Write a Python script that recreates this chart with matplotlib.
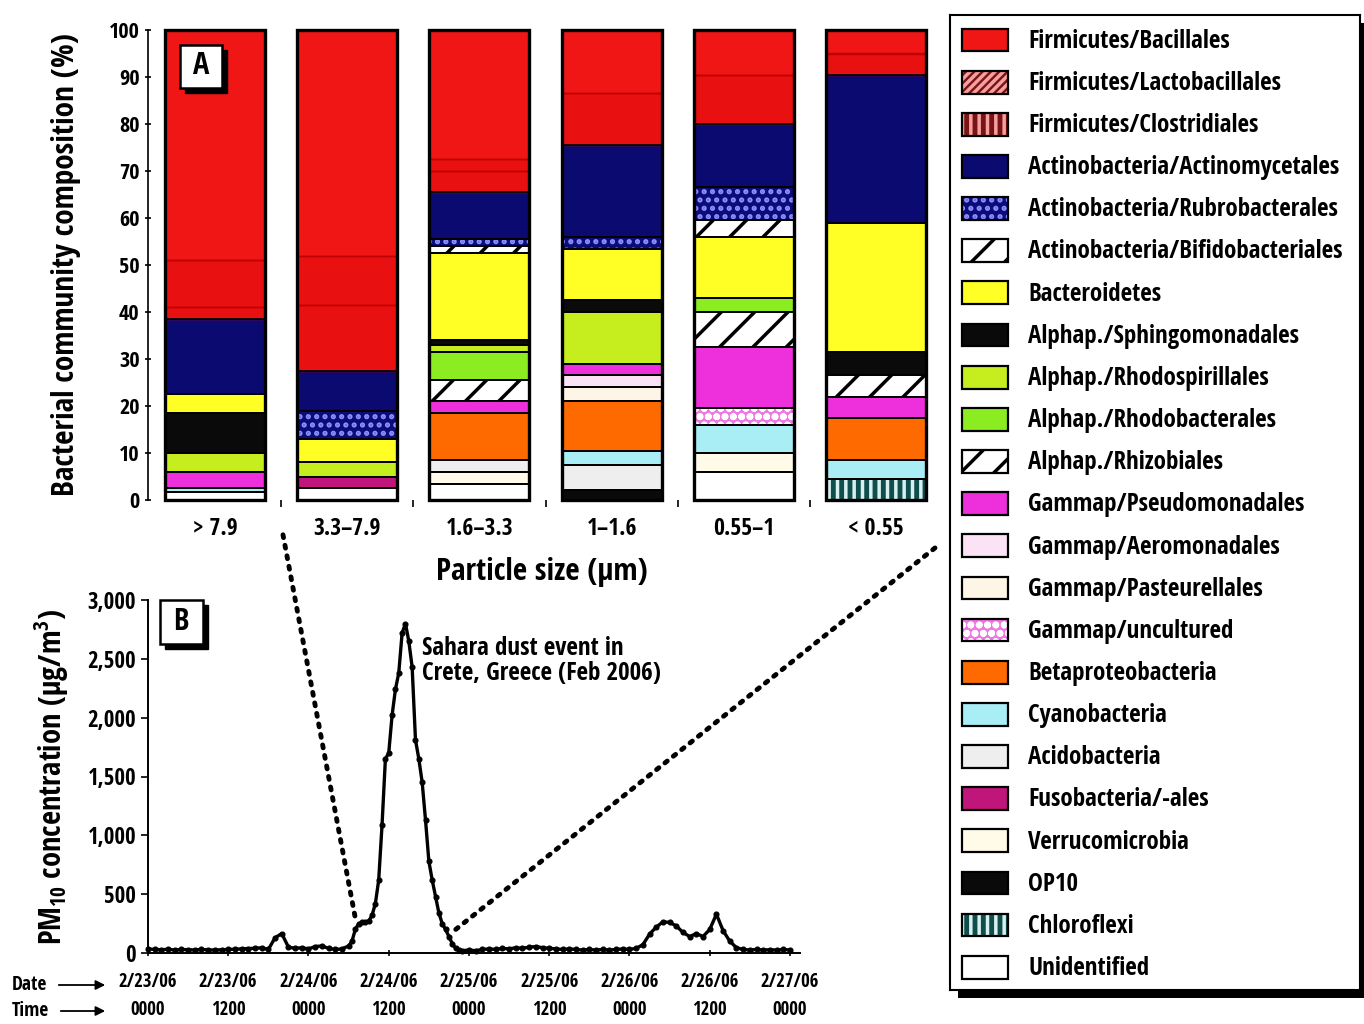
import matplotlib
matplotlib.use("Agg")
import matplotlib.pyplot as plt
from matplotlib.patches import Rectangle, ConnectionPatch, FancyArrowPatch
from matplotlib.ticker import FuncFormatter

plt.rcParams['font.family'] = ['Open Sans Condensed', 'DejaVu Sans']
plt.rcParams['font.weight'] = 'bold'
plt.rcParams['mathtext.fontset'] = 'custom'
plt.rcParams['mathtext.rm'] = 'Open Sans Condensed:bold'
plt.rcParams['mathtext.default'] = 'rm'
plt.rcParams['hatch.linewidth'] = 2.5

# ---------- Panel A: community composition (%) per particle size class ----------
sizes = ['> 7.9', '3.3–7.9', '1.6–3.3', '1–1.6', '0.55–1', '< 0.55']

taxa = ['Firmicutes/Bacillales', 'Firmicutes/Lactobacillales', 'Firmicutes/Clostridiales',
        'Actinobacteria/Actinomycetales', 'Actinobacteria/Rubrobacterales',
        'Actinobacteria/Bifidobacteriales', 'Bacteroidetes', 'Alphap./Sphingomonadales',
        'Alphap./Rhodospirillales', 'Alphap./Rhodobacterales', 'Alphap./Rhizobiales',
        'Gammap/Pseudomonadales', 'Gammap/Aeromonadales', 'Gammap/Pasteurellales',
        'Gammap/uncultured', 'Betaproteobacteria', 'Cyanobacteria', 'Acidobacteria',
        'Fusobacteria/-ales', 'Verrucomicrobia', 'OP10', 'Chloroflexi', 'Unidentified']

bacillales = [49, 48, 27.5, 13.5, 9.5, 5]
lactobacillales = [10, 10.5, 2.5, 11, 10.5, 4.5]
clostridiales = [2.5, 14, 4.5, 0, 0, 0]
actinomycetales = [16, 8.5, 10, 19.5, 13.5, 31.5]
rubrobacterales = [0, 6, 1.5, 2.5, 7, 0]
bifidobacteriales = [0, 0, 1.5, 0, 3.5, 0]
bacteroidetes = [4, 5, 18.5, 11, 13, 27.5]
sphingomonadales = [8.5, 0, 1, 2.5, 0, 5]
rhodospirillales = [4, 3, 1.5, 11, 0, 0]
rhodobacterales = [0, 0, 6, 0, 3, 0]
rhizobiales = [0, 0, 4.5, 0, 7.5, 4.5]
pseudomonadales = [3.4, 0, 2.5, 2.5, 13, 4.5]
aeromonadales = [0, 0, 0, 2.5, 0, 0]
pasteurellales = [0, 0, 0, 3, 0, 0]
gamma_uncultured = [0, 0, 0, 0, 3.5, 0]
betaproteobacteria = [0, 0, 10, 10.5, 0, 9]
cyanobacteria = [0.8, 0, 0, 3, 6, 4]
acidobacteria = [0, 0, 2.5, 5.3, 0, 0]
fusobacteria = [0, 2.5, 0, 0, 0, 0]
verrucomicrobia = [0, 0, 2.5, 0, 4, 0]
op10 = [0, 0, 0, 2.2, 0, 0]
chloroflexi = [0, 0, 0, 0, 0, 4.5]
unidentified = [1.8, 2.5, 3.5, 0, 6, 0]

composition = [bacillales, lactobacillales, clostridiales, actinomycetales, rubrobacterales,
               bifidobacteriales, bacteroidetes, sphingomonadales, rhodospirillales,
               rhodobacterales, rhizobiales, pseudomonadales, aeromonadales, pasteurellales,
               gamma_uncultured, betaproteobacteria, cyanobacteria, acidobacteria,
               fusobacteria, verrucomicrobia, op10, chloroflexi, unidentified]

bar_colors = ['#f01616', '#e81010', '#e81010', '#0a0a70', '#0c0c78', 'white', '#ffff26',
              '#0a0a0a', '#c6ee1e', '#8cec22', 'white', '#ee30dc', '#fbe2f5', '#fdf5e6',
              '#f078e4', '#ff6a00', '#a8eef4', '#eeeeee', '#c0157a', '#fffbe8', '#0a0a0a',
              '#104e4e', 'white']
key_colors = list(bar_colors)
key_colors[1] = '#7a1414'
key_colors[2] = '#7a1414'
hatches = ['', '', '', '', '..', '/', '', '', '', '', '/', '', '', '', 'oo', '', '', '', '',
           '', '', '||', '']
hatch_colors = ['#f01616', '#e81010', '#e81010', '#0a0a70', '#8a90ff', 'black', '#ffff26',
                '#0a0a0a', '#c6ee1e', '#8cec22', 'black', '#ee30dc', '#fbe2f5', '#fdf5e6',
                'white', '#ff6a00', '#a8eef4', '#eeeeee', '#c0157a', '#fffbe8', '#0a0a0a',
                '#d8f0f0', 'white']
key_hatches = list(hatches)
key_hatches[1] = '////'
key_hatches[2] = '||'
key_hatch_colors = list(hatch_colors)
key_hatch_colors[1] = '#f4a0a0'
key_hatch_colors[2] = '#f4a0a0'
reds = ['Firmicutes/Bacillales', 'Firmicutes/Lactobacillales', 'Firmicutes/Clostridiales']

# ---------- Panel B: PM10 time series (hours from 2/23/06 0000) ----------
hours = list(range(0, 31)) + [30.5 + 0.5 * k for k in range(34)] + list(range(48, 97))
pm10 = [35, 30, 28, 32, 25, 30, 28, 26, 30, 27, 25, 28, 30, 32, 35, 38, 40, 45, 30,
        130, 165, 50, 40, 45, 35, 55, 60, 40, 30, 35, 60,
        100, 200, 250, 260, 265, 270, 320, 420, 620, 1090, 1650, 1700, 2020, 2240, 2380,
        2720, 2800, 2650, 2430, 1810, 1650, 1450, 1130, 780, 620, 480, 340, 250, 200, 140,
        80, 40, 25, 20,
        25, 20, 30, 35, 30, 40, 35, 45, 40, 50, 55, 45, 40, 35, 30, 35, 30, 25, 30, 25,
        30, 25, 30, 35, 30, 40, 70, 160, 220, 265, 260, 230, 175, 140, 165, 140, 200, 330,
        190, 100, 45, 30, 25, 30, 25, 28, 25, 30, 25]
tick_hours = [0, 12, 24, 36, 48, 60, 72, 84, 96]
tick_dates = ['2/23/06', '2/23/06', '2/24/06', '2/24/06', '2/25/06', '2/25/06',
              '2/26/06', '2/26/06', '2/27/06']
tick_times = ['0000', '1200', '0000', '1200', '0000', '1200', '0000', '1200', '0000']

W, H = 1364, 1024
fig = plt.figure(figsize=(W / 100, H / 100), dpi=100)


def px_rect(l, t, r, b):
    return [l / W, 1 - b / H, (r - l) / W, (b - t) / H]


def label_box(ax, x0, y0, w, h, dx, dy, letter):
    ax.add_patch(Rectangle((x0 + dx, y0 - dy), w, h, transform=ax.transAxes,
                           facecolor='black', edgecolor='black', zorder=8, clip_on=False))
    ax.add_patch(Rectangle((x0, y0), w, h, transform=ax.transAxes, facecolor='white',
                           edgecolor='black', lw=1.8, zorder=9, clip_on=False))
    ax.text(x0 + w / 2, y0 + h / 2, letter, transform=ax.transAxes, ha='center',
            va='center', fontsize=22, fontweight='bold', zorder=10)


# ---- panel A
axA = fig.add_axes(px_rect(148, 30, 935, 500))
xpos = list(range(len(sizes)))
bottom = [0.0] * len(sizes)
for i in reversed(range(len(taxa))):
    vals = composition[i]
    xs = [x for x, v in zip(xpos, vals) if v > 0]
    hs = [v for v in vals if v > 0]
    bs = [b for b, v in zip(bottom, vals) if v > 0]
    if xs:
        axA.bar(xs, hs, bottom=bs, width=0.756, color=bar_colors[i], hatch=hatches[i],
                edgecolor=hatch_colors[i], linewidth=0, zorder=2)
        red = taxa[i] in reds
        axA.bar(xs, hs, bottom=bs, width=0.756, fill=False,
                edgecolor='#c00000' if red else 'black', linewidth=1.0 if red else 1.3,
                zorder=3 if red else 4)
    bottom = [b + v for b, v in zip(bottom, vals)]
axA.bar(xpos, bottom, width=0.756, fill=False, edgecolor='black', linewidth=2.4,
        zorder=5, clip_on=False)

axA.set_xlim(-0.507, 5.446)
axA.set_ylim(0, 100)
axA.set_yticks(range(0, 101, 10))
axA.set_xticks(xpos)
axA.set_xticklabels(sizes, fontsize=17)
axA.set_xticks([x + 0.5 for x in xpos[:-1]], minor=True)
axA.tick_params(axis='x', which='major', length=0, pad=12)
axA.tick_params(axis='x', which='minor', length=5, width=1.2, direction='out')
axA.tick_params(axis='y', labelsize=16, length=5, width=1.2, direction='inout')
for s in ['top', 'right', 'bottom']:
    axA.spines[s].set_visible(False)
axA.spines['left'].set_linewidth(1.2)
axA.set_ylabel('Bacterial community composition (%)', fontsize=22.5, labelpad=20)
axA.set_xlabel('Particle size (µm)', fontsize=22.5, labelpad=12)
label_box(axA, 0.041, 0.877, 0.053, 0.092, 5 / 787, 5 / 470, 'A')

# ---- panel B
axB = fig.add_axes(px_rect(148, 600, 800, 953))
axB.plot(hours, pm10, color='black', lw=2.4, marker='o', ms=3.4, zorder=3, clip_on=False)
axB.set_xlim(0, 97.5)
axB.set_ylim(0, 3000)
axB.set_yticks(range(0, 3001, 500))
axB.yaxis.set_major_formatter(FuncFormatter(lambda v, p: f'{int(v):,}'))
axB.set_xticks(tick_hours)
axB.set_xticklabels([f'{d}\n{t}' for d, t in zip(tick_dates, tick_times)],
                    fontsize=13.5, linespacing=1.5)
axB.tick_params(axis='x', length=4, width=1.2, direction='inout', pad=12)
axB.tick_params(axis='y', labelsize=16.5, length=5, width=1.2, direction='out')
for s in ['top', 'right']:
    axB.spines[s].set_visible(False)
axB.spines['left'].set_linewidth(1.4)
axB.spines['bottom'].set_linewidth(1.4)
axB.set_ylabel('PM$_{10}$ concentration (µg/m$^3$)', fontsize=22, labelpad=12)
axB.text(41, 2690, 'Sahara dust event in\nCrete, Greece (Feb 2006)', fontsize=18,
         va='top', ha='left', linespacing=0.95)
label_box(axB, 0.018, 0.874, 0.066, 0.125, 5 / 652, 5 / 353, 'B')

fig.text(12 / W, 1 - 985 / H, 'Date', fontsize=14, va='center', ha='left', fontweight='bold')
fig.text(12 / W, 1 - 1011 / H, 'Time', fontsize=14, va='center', ha='left', fontweight='bold')
for y0, x0 in [(985, 56), (1011, 58)]:
    fig.add_artist(FancyArrowPatch(
        (x0 / W, 1 - y0 / H), (108 / W, 1 - y0 / H), transform=fig.transFigure,
        arrowstyle='-|>', mutation_scale=14, color='black', lw=1.3))

# dotted connectors between panel B event window and panel A
for xa, ya, xb, yb in [(0.514, -7.4, 31.0, 297), (5.446, -10.2, 45.9, 195)]:
    con = ConnectionPatch(xyA=(xa, ya), coordsA=axA.transData, xyB=(xb, yb),
                          coordsB=axB.transData, linestyle=(0, (0.6, 1.6)), lw=3.5,
                          color='black', capstyle='round', zorder=6)
    fig.add_artist(con)

# ---- legend box
fig.add_artist(Rectangle((958 / W, 1 - 998 / H), 410 / W, 975 / H, transform=fig.transFigure,
                         facecolor='black', edgecolor='none', zorder=1))
axL = fig.add_axes(px_rect(950, 15, 1360, 990), zorder=2)
axL.set_xlim(0, 410)
axL.set_ylim(22.54, -0.593)
axL.set_xticks([])
axL.set_yticks([])
for s in axL.spines.values():
    s.set_linewidth(1.5)
for i, name in enumerate(taxa):
    axL.add_patch(Rectangle((12, i - 0.27), 46, 0.54, facecolor=key_colors[i],
                            hatch=key_hatches[i], edgecolor=key_hatch_colors[i], lw=0))
    axL.add_patch(Rectangle((12, i - 0.27), 46, 0.54, fill=False, edgecolor='black', lw=1.6))
    axL.text(78, i + 0.03, name, fontsize=18, va='center', ha='left')

fig.savefig('out.png', dpi=100)
